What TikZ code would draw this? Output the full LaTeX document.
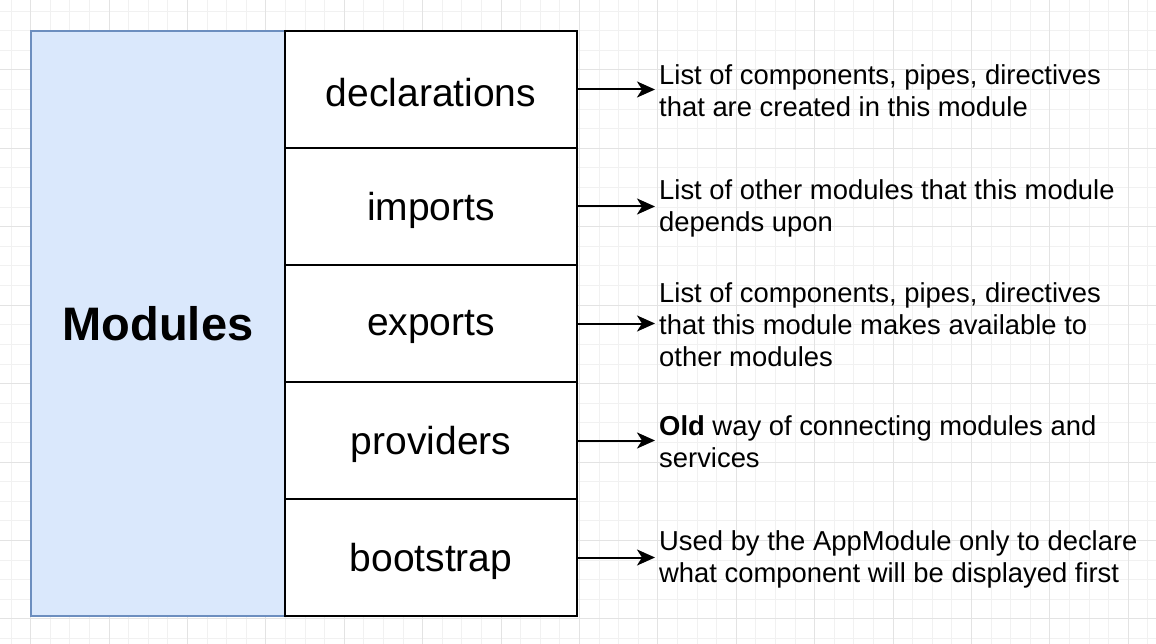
\documentclass[tikz,border=0pt]{standalone}
\usepackage{fontspec}
\setmainfont{Liberation Sans}
\usetikzlibrary{arrows.meta}
\definecolor{gridminor}{HTML}{F1F1F1}
\definecolor{gridmajor}{HTML}{E3E3E3}
\definecolor{modfill}{HTML}{DAE8FC}
\definecolor{modline}{HTML}{6C8EBF}
\tikzset{
  cellbox/.style={draw=black, line width=2pt, fill=white, minimum width=292pt, minimum height=117pt, inner sep=0pt,
    label={[font=\fontsize{39}{44}\selectfont, yshift=-3.5pt]center:#1}},
  modbox/.style={draw=modline, line width=2pt, fill=modfill, minimum width=254pt, minimum height=585pt, inner sep=0pt, font=\fontsize{47}{52}\selectfont\bfseries},
  desc/.style={anchor=west, align=left, inner xsep=4pt, inner ysep=0pt, font=\fontsize{27.4}{32}\selectfont},
  conn/.style={line width=2pt, -{Stealth[length=18pt, width=16pt, inset=5pt]}}
}
\begin{document}
\begin{tikzpicture}[x=1pt,y=-1pt]
\useasboundingbox (0,0) rectangle (1156,644);
\fill[white] (0,0) rectangle (1156,644);
% grid
\foreach \i in {0,...,58} {
  \pgfmathsetmacro{\gx}{11+19.6*\i}
  \draw[gridminor, line width=1pt] (\gx,0) -- (\gx,644);
}
\foreach \i in {0,...,32} {
  \pgfmathsetmacro{\gy}{11.2+19.6*\i}
  \draw[gridminor, line width=1pt] (0,\gy) -- (1156,\gy);
}
\foreach \i in {0,...,14} {
  \pgfmathsetmacro{\gx}{30.6+78.4*\i}
  \draw[gridmajor, line width=1pt] (\gx,0) -- (\gx,644);
}
\foreach \i in {0,...,8} {
  \pgfmathsetmacro{\gy}{-8.4+78.4*\i}
  \draw[gridmajor, line width=1pt] (0,\gy) -- (1156,\gy);
}
% module box
\node[modbox] (mod) at (158,323.5) {Modules};
% cells
\node[cellbox=declarations] (decl) at (431,89.5) {};
\node[cellbox=imports] (imp) at (431,206.5) {};
\node[cellbox=exports] (exp) at (431,323.5) {};
\node[cellbox=providers] (prov) at (431,440.5) {};
\node[cellbox=bootstrap] (boot) at (431,557.5) {};
% descriptions
\node[desc] (d1) at (655,91) {List of components, pipes, directives\\that are created in this module};
\node[desc] (d2) at (655,208) {List of other modules that this module\\depends upon};
\node[desc] (d3) at (655,325) {List of components, pipes, directives\\that this module makes available to\\other modules};
\node[desc] (d4) at (655,442) {\textbf{Old} way of connecting modules and\\services};
\node[desc] (d5) at (655,559) {Used by the AppModule only to declare\\what component will be displayed first};
% connectors
\coordinate (t1) at (655,89.5);
\coordinate (t2) at (655,206.5);
\coordinate (t3) at (655,323.5);
\coordinate (t4) at (655,440.5);
\coordinate (t5) at (655,557.5);
\draw[conn] (decl.east) -- (t1);
\draw[conn] (imp.east) -- (t2);
\draw[conn] (exp.east) -- (t3);
\draw[conn] (prov.east) -- (t4);
\draw[conn] (boot.east) -- (t5);
\end{tikzpicture}
\end{document}
